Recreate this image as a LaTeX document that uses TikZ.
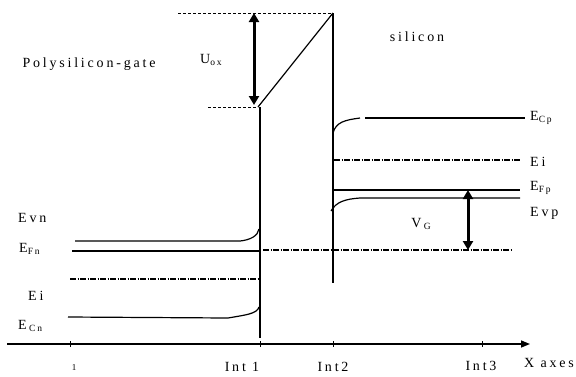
\documentclass[tikz,border=0pt]{standalone}
\usepackage{fontspec}
\setmainfont{Liberation Serif}
\newfontfamily\spaced[LetterSpace=20]{Liberation Serif}
\usetikzlibrary{arrows.meta}
\newcommand{\lowsub}[1]{\raisebox{-2.5pt}{\fontsize{9.5}{10}\selectfont #1}}

\begin{document}
\begin{tikzpicture}[x=1pt,y=-1pt,
  level/.style={line width=1.2pt},
  wall/.style={line width=1.6pt},
  guide/.style={line width=1pt,densely dashed},
  midgap/.style={line width=1.4pt,dash pattern=on 6pt off 1.5pt on 1pt off 1.5pt},
  span/.style={line width=3pt,{Triangle[length=9pt,width=10pt]}-{Triangle[length=9pt,width=10pt]}},
  lbl/.style={font=\spaced\fontsize{14}{16}\selectfont,inner sep=0pt}]
  \useasboundingbox (0,0) rectangle (576,376);

  % oxide corners
  \coordinate (oxtop) at (333,13);
  \coordinate (oxbot) at (258,107);
  \coordinate (int1top) at (260,107);
  \coordinate (int1bot) at (260,338);
  \coordinate (int2bot) at (333,283);
  \draw[guide] (178,13) coordinate (uoxleft) -- (oxtop);
  \draw[guide] (208,107) coordinate (lowleft) -- (oxbot);
  \draw[level] (oxbot) -- (oxtop);
  \draw[wall] (int1top) -- (int1bot);
  \draw[wall] (oxtop) -- (int2bot);
  \draw[span] (254,13) coordinate (uoxa) -- (254,105) coordinate (uoxb);
  \node[lbl] (uox) at (211,60) {U\lowsub{ox}};

  % gate side levels
  \draw[level] (75,241) coordinate (evnl) -- (240,241) coordinate (evnb)
    .. controls (250,240) and (258,236) .. (259,229) coordinate (evnr);
  \draw[level] (72,251) coordinate (efnl) -- (260,251) coordinate (efnr);
  \draw[midgap] (70,279) coordinate (einl) -- (260,279) coordinate (einr);
  \draw[level] (68,317) coordinate (ecnl) -- (228,318) coordinate (ecnb)
    .. controls (245,315) and (257,314) .. (259,307) coordinate (ecnr);

  % silicon side levels
  \draw[level] (333,133) coordinate (ecpa)
    .. controls (336,122) and (345,120) .. (360,118) coordinate (ecpb);
  \draw[level] (365,118) coordinate (ecpl) -- (525,118) coordinate (ecpr);
  \draw[midgap] (334,160) coordinate (eipl) -- (520,160) coordinate (eipr);
  \draw[level] (333,190) coordinate (efpl) -- (520,190) coordinate (efpr);
  \draw[level] (331,211) coordinate (evpa)
    .. controls (336,202) and (345,199) .. (360,198) coordinate (evpb)
    -- (520,198) coordinate (evpr);
  \draw[midgap] (263,250) coordinate (vgl) -- (513,250) coordinate (vgr);
  \draw[span] (468,190) coordinate (vga) -- (468,250) coordinate (vgb);

  % labels
  \node[lbl] (gate) at (89,64) {Polysilicon-gate};
  \node[lbl] (si) at (417,37) {silicon};
  \node[lbl,anchor=west] (ecplbl) at (530,118) {E\lowsub{Cp}};
  \node[lbl,anchor=west] (eiplbl) at (530,162) {Ei};
  \node[lbl,anchor=west] (efplbl) at (530,188) {E\lowsub{Fp}};
  \node[lbl,anchor=west] (evplbl) at (530,213) {Evp};
  \node[lbl] (vglbl) at (421,224) {V\,\lowsub{G}};
  \node[lbl,anchor=west] (evnlbl) at (18,218) {Evn};
  \node[lbl,anchor=west] (efnlbl) at (19,249) {E\lowsub{Fn}};
  \node[lbl,anchor=west] (einlbl) at (28,296) {Ei};
  \node[lbl,anchor=west] (ecnlbl) at (18,326) {E\,\lowsub{Cn}};

  % x axis
  \coordinate (axl) at (7,344);
  \coordinate (axr) at (530,344);
  \draw[line width=1.5pt,-{Triangle[length=9pt,width=7pt]}] (axl) -- (axr);
  \foreach \tx/\tn in {70/t0,260/t1,333/t2,482/t3}
    \draw[line width=1pt] (\tx,341) coordinate (\tn a) -- (\tx,347) coordinate (\tn b);
  \node[lbl] (x1) at (74,368) {\fontsize{9}{10}\selectfont 1};
  \node[lbl] (xi1) at (242,367) {Int 1};
  \node[lbl] (xi2) at (333,367) {Int2};
  \node[lbl] (xi3) at (481,366) {Int3};
  \node[lbl] (xax) at (549,363) {X axes};
\end{tikzpicture}
\end{document}
